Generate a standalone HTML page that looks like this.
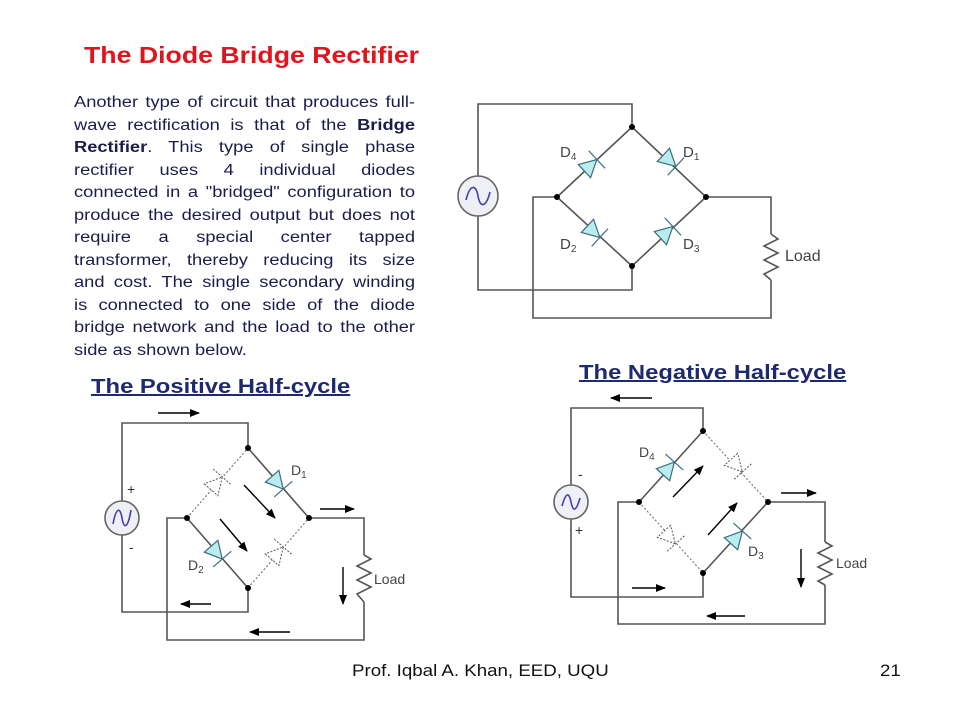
<!DOCTYPE html>
<html><head><meta charset="utf-8"><style>
body{margin:0;background:#fff;}
#w{position:relative;width:960px;height:720px;overflow:hidden;font-family:"Liberation Sans",sans-serif;}
.t{position:absolute;white-space:nowrap;transform-origin:0 0;}
#p{position:absolute;left:74px;top:92px;width:289px;font-size:15.5px;color:#1c1c4a;transform:scaleX(1.18);transform-origin:0 0;}
#p div{height:22.5px;line-height:22.5px;text-align:justify;text-align-last:justify;white-space:nowrap;}
#p div.l{text-align-last:left;}
svg{position:absolute;left:0;top:0;}
</style></head><body><div id="w">
<div class="t" style="left:84px;top:42px;font-size:23px;font-weight:bold;color:#e0141c;transform:scaleX(1.16);">The Diode Bridge Rectifier</div>
<div id="p">
<div>Another type of circuit that produces full-</div>
<div>wave rectification is that of the <b>Bridge</b></div>
<div><b>Rectifier</b>. This type of single phase</div>
<div>rectifier uses 4 individual diodes</div>
<div>connected in a "bridged" configuration to</div>
<div>produce the desired output but does not</div>
<div>require a special center tapped</div>
<div>transformer, thereby reducing its size</div>
<div>and cost. The single secondary winding</div>
<div>is connected to one side of the diode</div>
<div>bridge network and the load to the other</div>
<div class="l">side as shown below.</div>
</div>
<div class="t" style="left:91px;top:376px;font-size:20px;font-weight:bold;color:#1f2a6e;text-decoration:underline;transform:scaleX(1.19);">The Positive Half-cycle</div>
<div class="t" style="left:579px;top:362px;font-size:20px;font-weight:bold;color:#1f2a6e;text-decoration:underline;transform:scaleX(1.19);">The Negative Half-cycle</div>
<div class="t" style="left:352px;top:661px;font-size:17px;color:#111;transform:scaleX(1.1);">Prof. Iqbal A. Khan, EED, UQU</div>
<div class="t" style="left:880px;top:661px;font-size:17px;color:#111;transform:scaleX(1.1);">21</div>
<svg width="960" height="720" viewBox="0 0 960 720">
<defs>
<marker id="ah" markerWidth="10" markerHeight="8" refX="9" refY="4" orient="auto" markerUnits="userSpaceOnUse"><polygon points="0,0 10,4 0,8" fill="#000"/></marker>
<g id="ds"><polygon points="-9,-9 -9,9 8,0" fill="#b8ecee" stroke="#3d6e7e" stroke-width="1.2"/><line x1="8" y1="-12" x2="8" y2="12" stroke="#3d6e7e" stroke-width="1.2"/></g>
<g id="dd"><polygon points="-9,-9 -9,9 8,0" fill="#fff" stroke="#555" stroke-width="1" stroke-dasharray="2,1.5"/><line x1="8" y1="-12" x2="8" y2="12" stroke="#555" stroke-width="1" stroke-dasharray="2,1.5"/></g>
</defs>
<g fill="none" stroke="#555" stroke-width="1.6">
<polyline points="478,176 478,104 632,104 632,127"/>
<polyline points="478,216 478,290 632,290 632,266"/>
<polyline points="557,197 533,197 533,318 771,318 771,280"/>
<polyline points="706,197 771,197 771,234"/>
<polyline points="771,234 778,239 764,246 778,253 764,260 778,267 764,274 771,280"/>
<polygon points="632,127 706,197 632,266 557,197"/>
<circle cx="478" cy="196" r="20" fill="#eef0f6" stroke="#666"/>
<polyline points="122,501 122,423 248,423 248,448"/>
<polyline points="122,535 122,612 248,612 248,588"/>
<polyline points="187,518 167,518 167,640 364,640 364,602"/>
<polyline points="309,518 364,518 364,555"/>
<polyline points="364,555 371,559 357,566 371,573 357,580 371,587 357,594 364,602"/>
<line x1="248" y1="448" x2="309" y2="518"/>
<line x1="187" y1="518" x2="248" y2="588"/>
<circle cx="122" cy="518" r="17" fill="#eef0f6" stroke="#666"/>
<polyline points="571,485 571,408 703,408 703,431"/>
<polyline points="571,519 571,597 703,597 703,573"/>
<polyline points="639,502 618,502 618,624 825,624 825,585"/>
<polyline points="768,502 825,502 825,542"/>
<polyline points="825,542 832,546 818,553 832,560 818,567 832,574 818,581 825,585"/>
<line x1="639" y1="502" x2="703" y2="431"/>
<line x1="703" y1="573" x2="768" y2="502"/>
<circle cx="571" cy="502" r="17" fill="#eef0f6" stroke="#666"/>
</g>
<g fill="none" stroke="#666" stroke-width="1" stroke-dasharray="2,2">
<line x1="187" y1="518" x2="248" y2="448"/>
<line x1="248" y1="588" x2="309" y2="518"/>
<line x1="703" y1="431" x2="768" y2="502"/>
<line x1="639" y1="502" x2="703" y2="573"/>
</g>
<g fill="none" stroke="#4a3cb0" stroke-width="1.6">
<path d="M466,200 C470,184 476,184 478,196 C480,208 486,208 490,192"/>
<path d="M113,524 C116,508 120,506 122,518 C124,530 128,528 131,510"/>
<path d="M562,506 C566,492 569,492 571,502 C573,512 576,512 580,498"/>
</g>
<g fill="#000">
<circle cx="632" cy="127" r="3"/><circle cx="706" cy="197" r="3"/><circle cx="632" cy="266" r="3"/><circle cx="557" cy="197" r="3"/>
<circle cx="248" cy="448" r="3"/><circle cx="309" cy="518" r="3"/><circle cx="248" cy="588" r="3"/><circle cx="187" cy="518" r="3"/>
<circle cx="703" cy="431" r="3"/><circle cx="768" cy="502" r="3"/><circle cx="703" cy="573" r="3"/><circle cx="639" cy="502" r="3"/>
</g>
<use href="#ds" transform="translate(591,165) rotate(-43)"/>
<use href="#ds" transform="translate(670,161) rotate(43)"/>
<use href="#ds" transform="translate(594,232) rotate(43)"/>
<use href="#ds" transform="translate(667,232) rotate(-43)"/>
<use href="#dd" transform="translate(217,483) rotate(-49)"/>
<use href="#ds" transform="translate(278,483) rotate(49)"/>
<use href="#ds" transform="translate(217,553) rotate(49)"/>
<use href="#dd" transform="translate(278,553) rotate(-49)"/>
<use href="#ds" transform="translate(669,468) rotate(-48)"/>
<use href="#dd" transform="translate(737,466) rotate(48)"/>
<use href="#dd" transform="translate(670,538) rotate(48)"/>
<use href="#ds" transform="translate(737,537) rotate(-48)"/>
<g stroke="#000" stroke-width="1.4" marker-end="url(#ah)">
<line x1="158" y1="413" x2="199" y2="413"/>
<line x1="320" y1="509" x2="354" y2="509"/>
<line x1="343" y1="567" x2="343" y2="604"/>
<line x1="211" y1="604" x2="181" y2="604"/>
<line x1="290" y1="632" x2="250" y2="632"/>
<line x1="220" y1="519" x2="247" y2="551"/>
<line x1="244" y1="485" x2="275" y2="518"/>
<line x1="652" y1="398" x2="611" y2="398"/>
<line x1="781" y1="493" x2="816" y2="493"/>
<line x1="801" y1="549" x2="801" y2="587"/>
<line x1="632" y1="588" x2="665" y2="588"/>
<line x1="745" y1="616" x2="707" y2="616"/>
<line x1="673" y1="497" x2="703" y2="466"/>
<line x1="708" y1="535" x2="737" y2="503"/>
</g>
<g font-family="Liberation Sans, sans-serif" fill="#444">
<text x="560" y="157" font-size="15">D<tspan font-size="10" dy="3">4</tspan></text>
<text x="683" y="157" font-size="15">D<tspan font-size="10" dy="3">1</tspan></text>
<text x="560" y="249" font-size="15">D<tspan font-size="10" dy="3">2</tspan></text>
<text x="683" y="249" font-size="15">D<tspan font-size="10" dy="3">3</tspan></text>
<text x="785" y="261" font-size="16">Load</text>
<text x="291" y="475" font-size="14">D<tspan font-size="10" dy="3">1</tspan></text>
<text x="188" y="570" font-size="14">D<tspan font-size="10" dy="3">2</tspan></text>
<text x="374" y="584" font-size="14">Load</text>
<text x="127" y="494" font-size="14" fill="#333">+</text>
<text x="129" y="552" font-size="14" fill="#333">-</text>
<text x="639" y="457" font-size="14">D<tspan font-size="10" dy="3">4</tspan></text>
<text x="748" y="556" font-size="14">D<tspan font-size="10" dy="3">3</tspan></text>
<text x="836" y="568" font-size="14">Load</text>
<text x="578" y="479" font-size="14" fill="#333">-</text>
<text x="575" y="535" font-size="14" fill="#333">+</text>
</g>
</svg>
</div></body></html>
